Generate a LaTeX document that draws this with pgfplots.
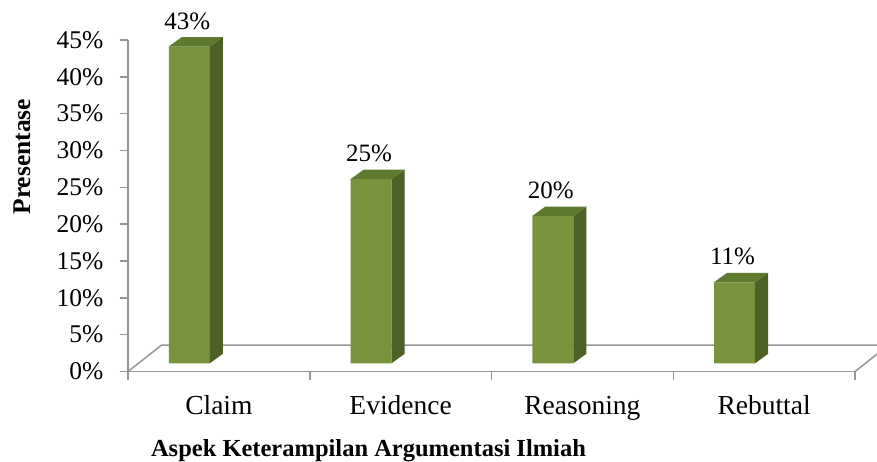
\documentclass[border=0pt]{standalone}
\usepackage{fontspec}
\setmainfont{Liberation Serif}
\usepackage{pgfplots}
\usepackage{pgfplotstable}
\pgfplotsset{compat=1.18}
\definecolor{frontc}{HTML}{77933C}
\definecolor{topc}{HTML}{5E7A2E}
\definecolor{sidec}{HTML}{4D6127}
\definecolor{linec}{RGB}{150,150,150}
\pgfplotstableread{
idx value
0 43
1 25
2 20
3 11
}\data
\def\L{-0.27565}
\def\R{-0.05007}
\def\dx{0.0715}
\def\dy{1.276}
\begin{document}
\begin{tikzpicture}
\useasboundingbox (0,0) rectangle (877pt,461pt);
% frame axis
\begin{axis}[
  scale only axis, width=727pt, height=331.5pt,
  at={(128pt,89.5pt)}, anchor=south west,
  xmin=-0.5, xmax=3.5, ymin=0, ymax=45,
  clip=false,
  axis lines*=left,
  axis line style={linec, line width=1.5pt},
  tick style={linec, line width=1.5pt},
  tick align=outside, major tick length=8pt,
  ytick={0,5,...,45},
  yticklabel={\pgfmathprintnumber{\tick}\%},
  /pgf/number format/assume math mode=true,
  yticklabel style={font=\fontsize{25.5}{28}\selectfont, anchor=east, xshift=-13pt},
  xtick={-0.5,0.5,1.5,2.5,3.5}, xticklabels={},
  extra x ticks={0,1,2,3},
  extra x tick labels={Claim,Evidence,Reasoning,Rebuttal},
  extra x tick style={major tick length=0pt, xticklabel style={font=\fontsize{27.5}{30}\selectfont, anchor=base, yshift=-43pt}},
  xlabel={Aspek Keterampilan Argumentasi Ilmiah},
  xlabel style={font=\fontsize{24.5}{28}\selectfont\bfseries, at={(axis description cs:0.3308,-0.255)}, anchor=base},
  ylabel={Presentase},
  ylabel style={font=\fontsize{25.5}{28}\selectfont\bfseries, at={(axis description cs:-0.1458,0.648)}, anchor=center, rotate=0},
]
\addplot[linec, line width=1.5pt] coordinates {(-0.5,0) (-0.3146,3.597) (3.685,3.597) (3.5,0)};
\end{axis}
% bars axis
\begin{axis}[
  scale only axis, width=727pt, height=331.5pt,
  at={(128pt,97.7pt)}, anchor=south west,
  xmin=-0.5, xmax=3.5, ymin=0, ymax=45,
  clip=false, hide axis,
  /pgf/number format/assume math mode=true,
]
\addplot[ybar, bar width=41pt, bar shift=-29.6pt, fill=frontc, draw=none,
  nodes near coords={\pgfmathprintnumber{\pgfplotspointmeta}\%},
  nodes near coords style={font=\fontsize{25}{28}\selectfont, text=black, anchor=base, inner sep=0pt, yshift=17.5pt, xshift=-31.6pt}]
  table[x=idx, y=value] {\data};
\pgfplotsinvokeforeach{0,1,2,3}{
  \pgfplotstablegetelem{#1}{value}\of\data
  \pgfmathsetmacro\va{\pgfplotsretval}
  \pgfmathsetmacro\vb{\pgfplotsretval+\dy}
  \pgfmathsetmacro\xl{#1+\L}
  \pgfmathsetmacro\xr{#1+\R}
  \pgfmathsetmacro\xlb{#1+\L+\dx}
  \pgfmathsetmacro\xrb{#1+\R+\dx}
  \edef\temp{\noexpand\addplot[draw=none, fill=sidec] coordinates {(\xr,0) (\xrb,\dy) (\xrb,\vb) (\xr,\va)};
    \noexpand\addplot[draw=none, fill=topc] coordinates {(\xl,\va) (\xlb,\vb) (\xrb,\vb) (\xr,\va)};}
  \temp
}
\end{axis}
\end{tikzpicture}
\end{document}
